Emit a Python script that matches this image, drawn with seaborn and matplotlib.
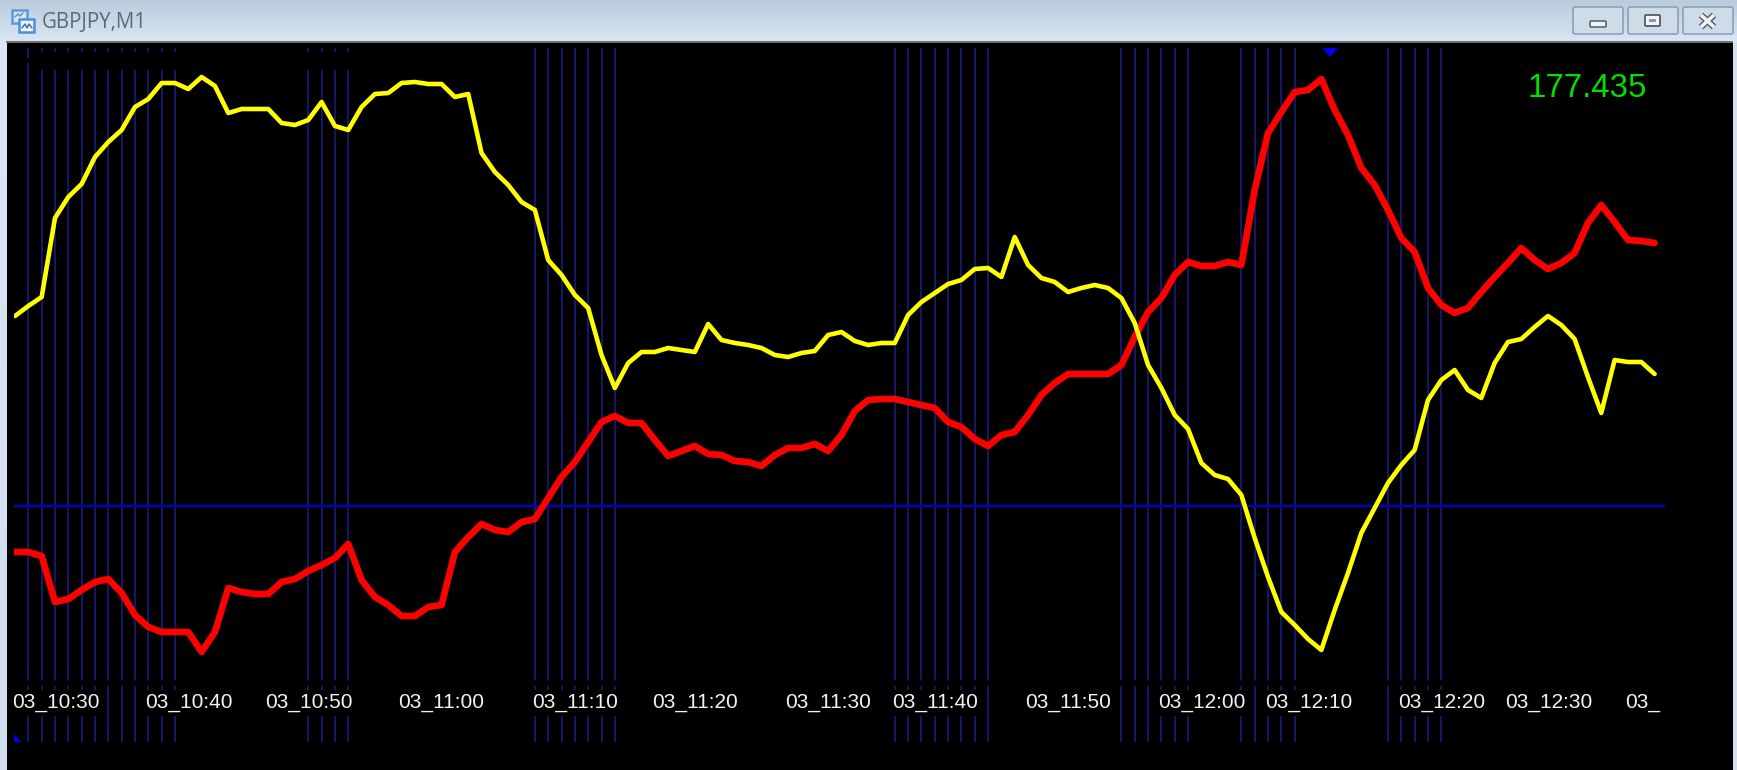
import numpy as np
import pandas as pd
import matplotlib
matplotlib.use("Agg")
import matplotlib.pyplot as plt
from matplotlib.colors import LinearSegmentedColormap
from matplotlib.patches import FancyBboxPatch, Polygon, Rectangle
import seaborn as sns

W, H = 1737, 770

# readings are in chart units above the blue level line, one per M1 bar
yellow = [190, 200, 209, 288, 309, 322, 349, 364, 376, 399,
          407, 423, 423, 417, 429, 420, 393, 397, 397, 397,
          383, 381, 386, 404, 380, 376, 399, 412, 413, 423,
          424, 422, 422, 409, 412, 353, 334, 321, 304, 296,
          246, 231, 211, 198, 151, 118, 143, 154, 154, 158,
          156, 154, 182, 166, 163, 161, 158, 151, 149, 153,
          155, 171, 174, 165, 161, 163, 163, 191, 204, 213,
          222, 226, 237, 238, 229, 269, 241, 228, 224, 214,
          218, 221, 218, 208, 183, 141, 118, 91, 77, 43,
          31, 27, 11, -32, -71, -106, -119, -133, -144, -104,
          -67, -27, -2, 23, 41, 56, 106, 126, 136, 116,
          108, 143, 164, 167, 179, 190, 181, 167, 129, 93,
          146, 144, 144, 132]
red = [-46, -46, -50, -96, -93, -84, -76, -73, -87, -109,
       -121, -126, -126, -126, -146, -126, -82, -86, -88, -88,
       -76, -73, -65, -59, -52, -38, -74, -91, -99, -110,
       -110, -101, -99, -46, -31, -18, -24, -26, -16, -13,
       8, 29, 44, 64, 84, 90, 83, 83, 66, 50,
       55, 60, 52, 51, 45, 44, 40, 51, 58, 58,
       62, 55, 71, 95, 106, 107, 107, 104, 101, 98,
       84, 79, 67, 60, 71, 74, 91, 111, 123, 132,
       132, 132, 132, 141, 169, 194, 208, 231, 244, 240,
       240, 244, 241, 316, 373, 394, 414, 416, 427, 396,
       371, 338, 321, 296, 268, 254, 218, 201, 193, 198,
       214, 229, 243, 258, 246, 237, 243, 253, 283, 301,
       284, 266, 265, 263]

signal_bars = list(range(1, 13)) + list(range(22, 26)) + list(range(39, 46)) \
    + list(range(66, 74)) + list(range(83, 89)) + list(range(92, 97)) + list(range(103, 108))

tick_bars = [0, 10, 19, 29, 39, 48, 58, 66, 76, 86, 94, 104, 112, 121]
tick_labels = ["03_10:30", "03_10:40", "03_10:50", "03_11:00", "03_11:10", "03_11:20", "03_11:30",
               "03_11:40", "03_11:50", "03_12:00", "03_12:10", "03_12:20", "03_12:30", "03_12:40"]

price_text = "177.435"
window_title = "GBPJPY,M1"

sns.set_style("dark")
plt.rcParams["font.family"] = ["Liberation Sans", "DejaVu Sans"]

fig = plt.figure(figsize=(W / 100, H / 100), dpi=100, facecolor="black")

# window frame, in pixels
frame = fig.add_axes([0, 0, 1, 1])
frame.axis("off")
bar_cmap = LinearSegmentedColormap.from_list("bar", ["#b9cbdc", "#dae7f4"])
side_cmap = LinearSegmentedColormap.from_list("side", ["#dae7f4", "#cfdeec"])
ramp = np.linspace(0, 1, 60).reshape(-1, 1)
frame.imshow(ramp, cmap=bar_cmap, extent=(0, W, 42, 0), aspect="auto", zorder=1)
frame.imshow(ramp, cmap=side_cmap, extent=(0, 7, H, 42), aspect="auto", zorder=1)
frame.add_patch(Rectangle((1733, 42), 4, H - 42, fc="#d3e1ee", ec="none", zorder=1))
frame.add_patch(Rectangle((7, 41), 1726, H - 41, fc="black", ec="none", zorder=2))
frame.add_patch(Rectangle((6, 40.5), 1727, 2.5, fc="#6b6f73", ec="none", zorder=3))
frame.set_xlim(0, W)
frame.set_ylim(H, 0)

# icon
frame.add_patch(Rectangle((12, 10), 15, 13, fc="#d5e5f8", ec="#5b9bdc", lw=1.8, zorder=4))
frame.add_patch(Rectangle((19, 19), 15, 13, fc="#eef5fd", ec="#4a90dc", lw=1.8, zorder=5))
frame.plot([22, 25, 27, 29, 32], [28, 24, 28, 24, 28], color="#4a6fa0", lw=1.1, zorder=6)
frame.plot([15, 18, 20, 23], [17, 14, 16, 13], color="#6a8fc0", lw=1.1, zorder=6)
frame.text(42, 28, window_title, color="#5d6a76", fontsize=14.8, family="Open Sans", va="baseline", zorder=6)

# window buttons
for bx, bw in [(1573, 50), (1628, 50), (1683, 50)]:
    frame.add_patch(FancyBboxPatch((bx + 2, 9), bw - 4, 23, boxstyle="round,pad=2", fc="#cedcea",
                                   ec="#8a9bb0", lw=1.1, zorder=4))
frame.add_patch(FancyBboxPatch((1591, 22), 14, 4, boxstyle="round,pad=1", fc="#f2f4f7", ec="#555b63", lw=1.1, zorder=5))
frame.add_patch(FancyBboxPatch((1646, 16), 13, 9, boxstyle="round,pad=1", fc="#f2f4f7", ec="#555b63", lw=1.3, zorder=5))
frame.add_patch(Rectangle((1649, 19), 7, 3, fc="#8f98a3", ec="none", zorder=6))
frame.plot([1701, 1714], [15, 27], color="#555b63", lw=4.6, zorder=5, solid_capstyle="butt")
frame.plot([1714, 1701], [15, 27], color="#555b63", lw=4.6, zorder=5, solid_capstyle="butt")
frame.plot([1701, 1714], [15, 27], color="#eef1f5", lw=2.6, zorder=6, solid_capstyle="butt")
frame.plot([1714, 1701], [15, 27], color="#eef1f5", lw=2.6, zorder=6, solid_capstyle="butt")

# chart area: bar index across, level line at 0
left, right, top, bottom = 14, 1665, 43, 770
bar0, bar_w, level = 15.0, 13.33, 506.0
ax = fig.add_axes([left / W, 1 - bottom / H, (right - left) / W, (bottom - top) / H])
ax.patch.set_alpha(0)
ax.set_xlim((left - bar0) / bar_w, (right - bar0) / bar_w)
ax.set_ylim(level - bottom, level - top)

navy = "#1b1b7c"
ax.vlines(signal_bars, -236, 458, color=navy, lw=1.2, zorder=1)

# hidden stretches of the signal lines
ax.fill_between([1.5, 26], 436, 454, color="black", lw=0, zorder=2)
ax.fill_between([0.5, 1.5], 443, 448, color="black", lw=0, zorder=2)
ax.axhspan(-180, -174, color="black", lw=0, zorder=2)

ax.axhline(0, color="#0000cd", lw=1.7, zorder=3)

df = pd.DataFrame({"bar": np.arange(len(red)), "red": red, "yellow": yellow})
sns.lineplot(data=df, x="bar", y="red", ax=ax, color="#ff0000", linewidth=4.8, zorder=5)
sns.lineplot(data=df, x="bar", y="yellow", ax=ax, color="#ffff00", linewidth=3.3, zorder=6)
ax.set_xlim((left - bar0) / bar_w, (right - bar0) / bar_w)
ax.set_ylim(level - bottom, level - top)
ax.axis("off")

for b, lab in zip(tick_bars, tick_labels):
    ax.text(b - 3 / bar_w, -202, lab, color="#f2f2f2", fontsize=15, va="baseline", ha="left", clip_on=True,
            zorder=4, bbox=dict(fc="black", ec="none", pad=2.5))
# the last label is cut after its date part
ax.fill_between([(1661 - bar0) / bar_w, (right - bar0) / bar_w], -212, -176, color="black", lw=0, zorder=4.5)

ax.text((1527 - bar0) / bar_w, level - 97, price_text, color="#00e000", fontsize=23.8, va="baseline", ha="left", zorder=7)

# peak and corner markers
ax.add_patch(Polygon([[(1322 - bar0) / bar_w, level - 48], [(1338 - bar0) / bar_w, level - 48],
                      [(1330 - bar0) / bar_w, level - 57]], fc="#0000e6", ec="none", zorder=7))
ax.add_patch(Polygon([[(14 - bar0) / bar_w, level - 734], [(14 - bar0) / bar_w, level - 742],
                      [(22 - bar0) / bar_w, level - 742]], fc="#0000e6", ec="none", zorder=7))

fig.savefig("out.png", dpi=100, facecolor="black")
